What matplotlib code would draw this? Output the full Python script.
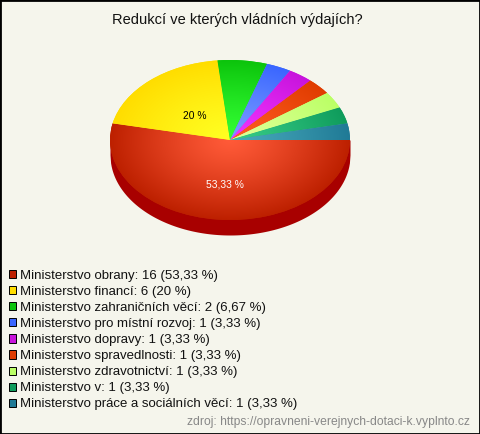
import numpy as np
import matplotlib
matplotlib.use('Agg')
import matplotlib.pyplot as plt
from matplotlib.colors import LinearSegmentedColormap
from matplotlib.patches import Patch, Rectangle

plt.rcParams['font.family'] = ['Liberation Sans', 'DejaVu Sans']

title = 'Redukcí ve kterých vládních výdajích?'
source = 'zdroj: https://opravneni-verejnych-dotaci-k.vyplnto.cz'
categories = ['Ministerstvo obrany', 'Ministerstvo financí', 'Ministerstvo zahraničních věcí',
              'Ministerstvo pro místní rozvoj', 'Ministerstvo dopravy', 'Ministerstvo spravedlnosti',
              'Ministerstvo zdravotnictví', 'Ministerstvo v', 'Ministerstvo práce a sociálních věcí']
values = [16, 6, 2, 1, 1, 1, 1, 1, 1]
percents = ['53,33', '20', '6,67', '3,33', '3,33', '3,33', '3,33', '3,33', '3,33']
edge_colors = ['#bd2000', '#ffdd00', '#0cc40c', '#3a66ff', '#c814dc', '#e03c00', '#bbff66', '#0f9c5c', '#207a96']
mid_colors = ['#ff5a38', '#ffff22', '#33ff33', '#7a9cff', '#f033ff', '#ff5c22', '#dfff99', '#38cc88', '#48aabb']
side_color = '#a80000'
bg = '#f5f5ec'

W, H = 480, 434
fig = plt.figure(figsize=(W / 100, H / 100), dpi=100, facecolor=bg)

# pie box in pixels: centre 230,140, radii 120 x 80
ax = fig.add_axes([110 / W, 1 - 220 / H, 240 / W, 160 / H])
ax.patch.set_alpha(0)

depth = 15 / 80
# side of the pie, only the front half shows
xs = np.linspace(-1, 1, 400)
ax.fill_between(xs, -np.sqrt(1 - xs ** 2) - depth, np.zeros_like(xs), color=side_color, lw=0, clip_on=False)

wedges, _ = ax.pie(values, startangle=0, counterclock=False, radius=1, center=(0, 0), frame=True)

yy, xx = np.mgrid[-1:1:400j, -1:1:400j]
rr = np.sqrt(xx ** 2 + yy ** 2)
for w, c1, c2 in zip(wedges, mid_colors, edge_colors):
    w.set_facecolor(c2)
    cm = LinearSegmentedColormap.from_list('g', [c1, c2])
    im = ax.imshow(rr ** 1.2, extent=(-1, 1, -1, 1), origin='lower', cmap=cm, vmin=0, vmax=1,
                   aspect='auto', zorder=w.get_zorder() + 0.1, interpolation='bilinear')
    im.set_clip_path(w)

ax.set_aspect('auto')
ax.set_xlim(-1, 1)
ax.set_ylim(-1, 1)
ax.axis('off')

# percent labels only on the two big slices
ax.text(-0.04, -0.56, percents[0] + ' %', color='white', ha='center', va='center', fontsize=7.4, zorder=10, clip_on=False)
ax.text(-0.29, 0.3, percents[1] + ' %', color='black', ha='center', va='center', fontsize=7.4, zorder=10)

fig.text(237.5 / W, 1 - 20 / H, title, ha='center', va='center', fontsize=10.55, color='#111111')

handles = [Patch(facecolor=c, edgecolor='black', lw=0.7) for c in edge_colors]
labels = [f'{c}: {v} ({p} %)' for c, v, p in zip(categories, values, percents)]
fig.legend(handles, labels, loc='upper left', bbox_to_anchor=(5 / W, 1 - 266 / H), frameon=False,
           fontsize=9.55, labelspacing=0.305, handlelength=0.56, handleheight=0.56, handletextpad=0.26,
           borderpad=0.3, borderaxespad=0, labelcolor='#111111')

fig.text(470 / W, 1 - 422 / H, source, ha='right', va='center', fontsize=8.7, color='#888888')

# chart border
fig.add_artist(Rectangle((0, 0), 1, 1, transform=fig.transFigure, fill=False, ec='black', lw=2))

fig.savefig('out.png', dpi=100, facecolor=bg)
